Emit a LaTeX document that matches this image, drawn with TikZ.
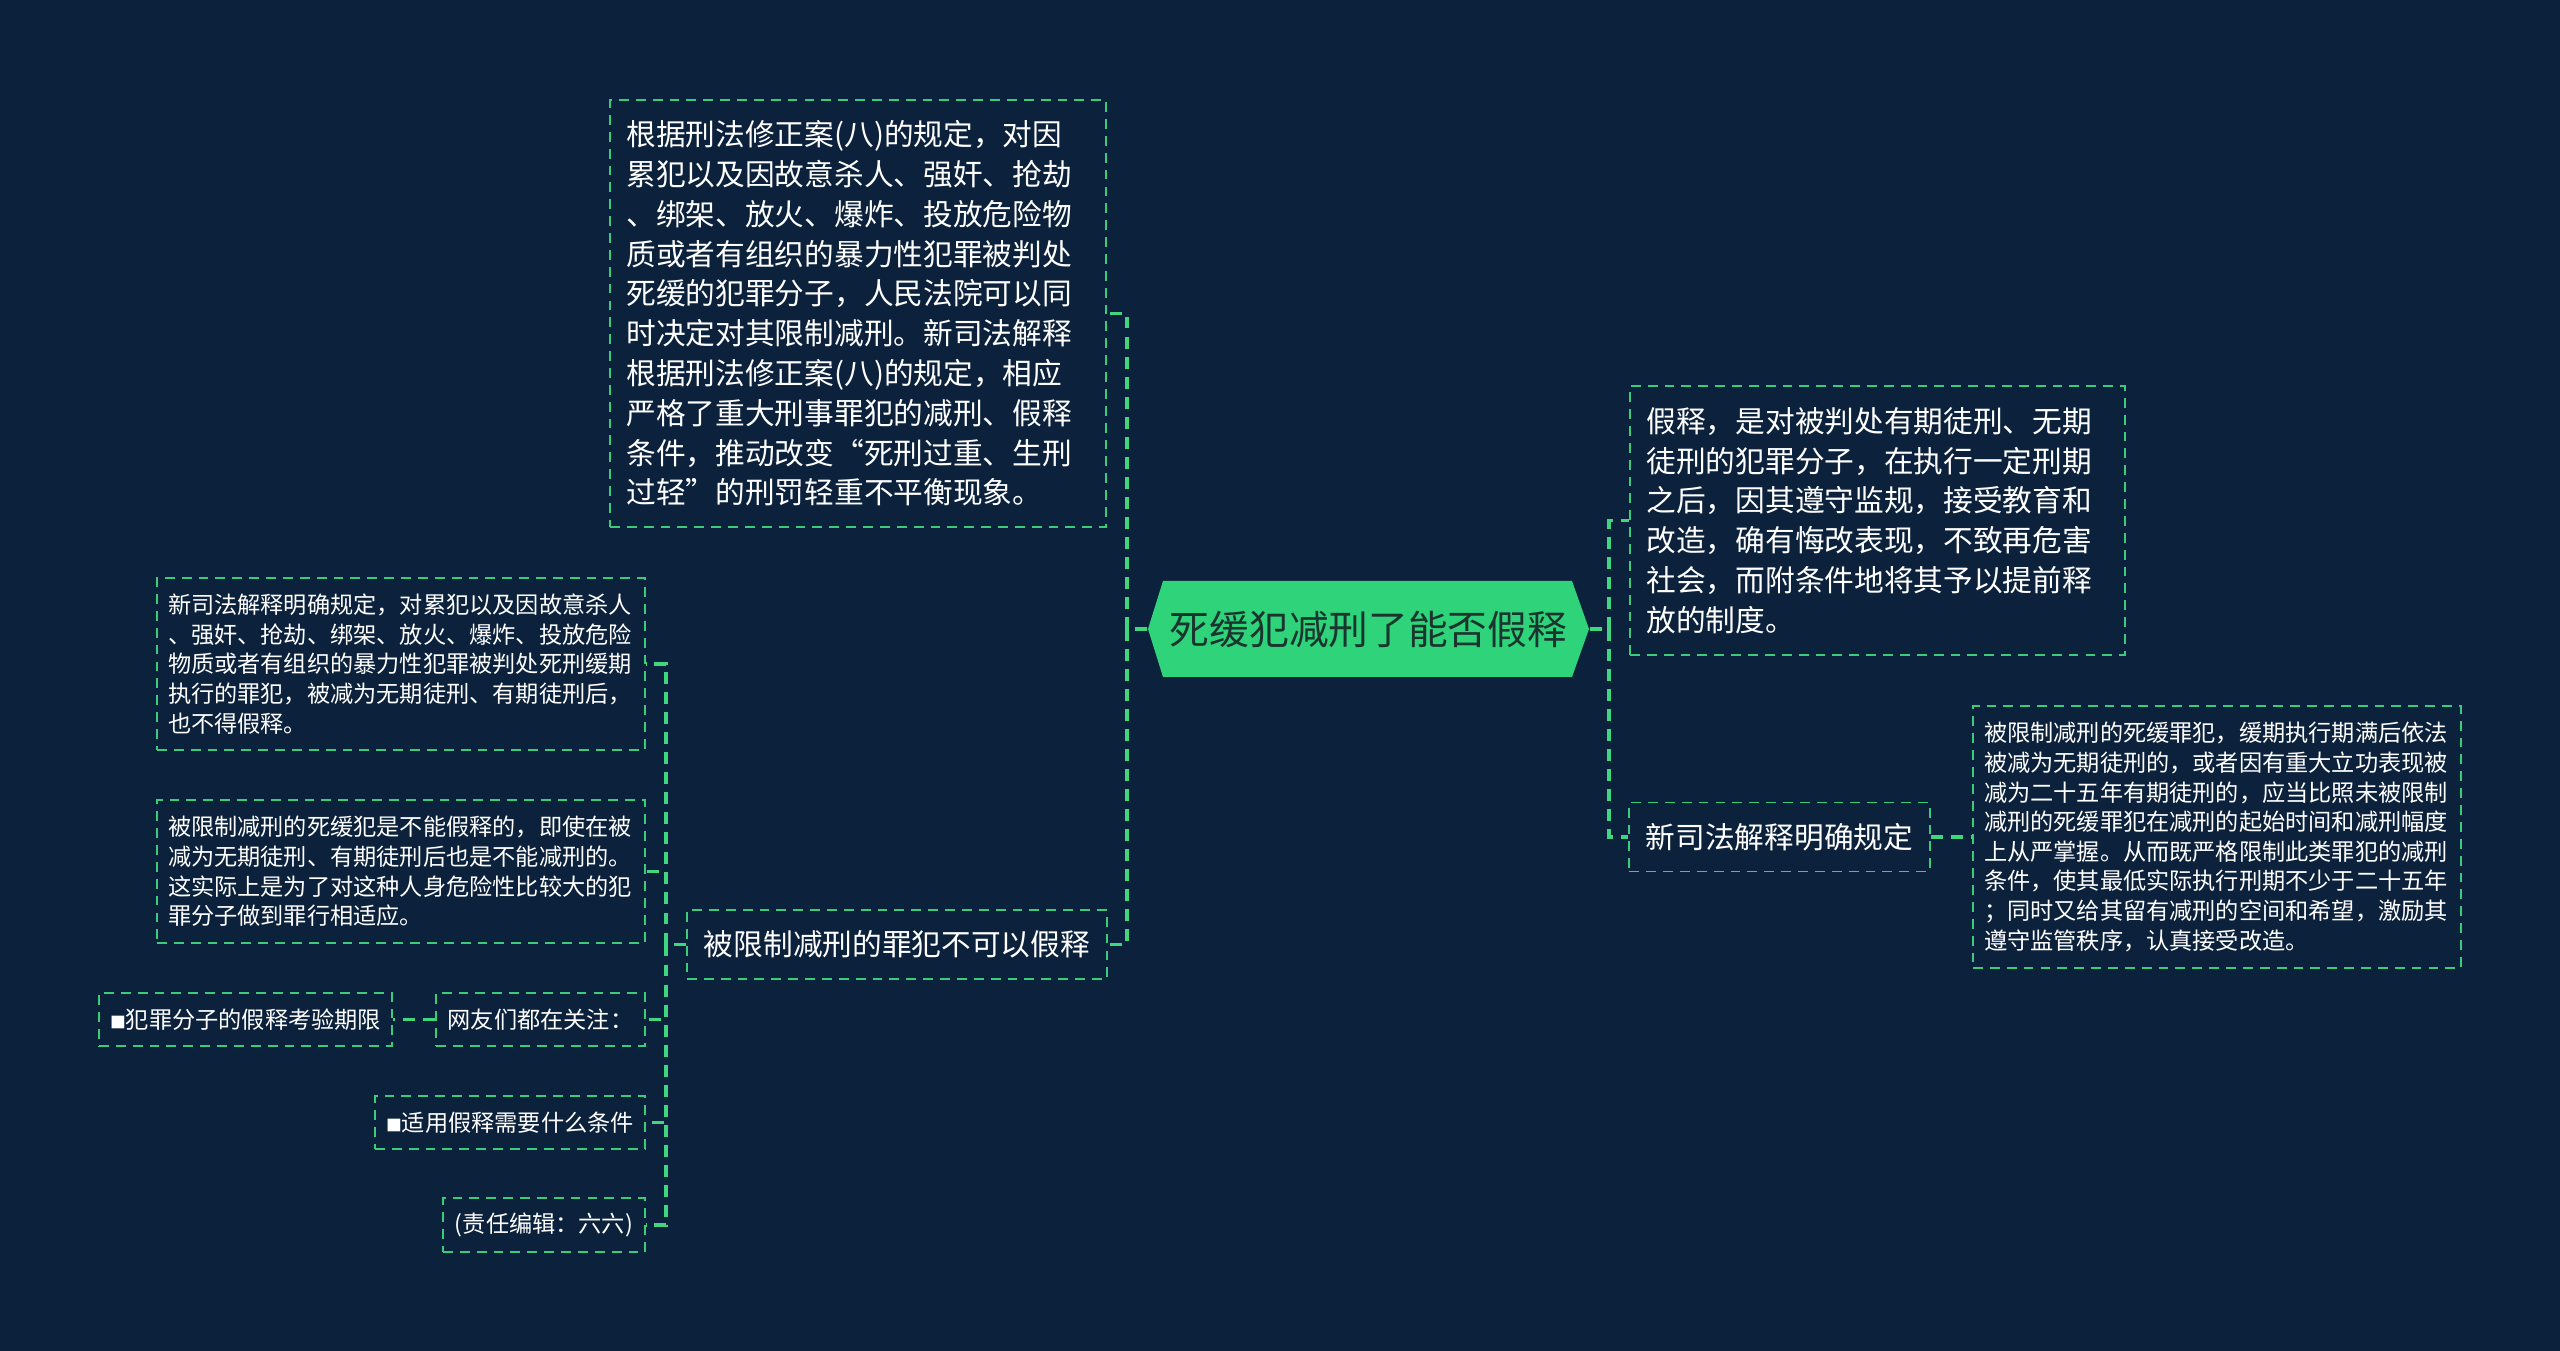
\documentclass[tikz,border=0pt]{standalone}
\usepackage{fontspec}
\newfontfamily\cjk{Noto Sans CJK SC}
\definecolor{bgnavy}{RGB}{12,34,60}
\definecolor{linegreen}{RGB}{58,204,122}
\definecolor{trunkgreen}{RGB}{64,214,128}
\definecolor{rootgreen}{RGB}{46,211,122}
\definecolor{roottext}{RGB}{26,52,46}
\newcommand\bsq{{\fontsize{4.5pt}{5pt}\selectfont ■}}

\begin{document}
\begin{tikzpicture}[x=0.1mm, y=-0.1mm,
    boxline/.style={draw=linegreen, line width=0.55pt, dash pattern=on 2.8pt off 2pt},
    bignote/.style={boxline, text=white, align=left, inner xsep=1.65mm, inner ysep=0pt,
        font=\cjk\fontsize{8.45pt}{11.32pt}\selectfont},
    smallnote/.style={boxline, text=white, align=left, inner xsep=1.1mm, inner ysep=0pt,
        font=\cjk\fontsize{6.6pt}{8.42pt}\selectfont},
    link/.style={draw=trunkgreen, line width=0.95pt, dash pattern=on 3.4pt off 2.3pt},
    rootbox/.style={inner sep=0pt, minimum width=44.1mm, minimum height=9.6mm,
        text=roottext, font=\cjk\fontsize{11.3pt}{13pt}\selectfont}]
    \useasboundingbox (0,0) rectangle (2560,1351);
    \fill[bgnavy] (0,0) rectangle (2560,1351);

    % centre
    \fill[rootgreen] (1148,629) -- ++(15,-48) -- ++(409,0) -- ++(17,48)
        -- ++(-17,48) -- ++(-409,0) -- cycle;
    \node[rootbox] (root) at (1368.5,629) {死缓犯减刑了能否假释};

    % left branch
    \node[bignote, text width=46.3mm, minimum height=42.7mm] (topnote) at (858,313.5)
        {根据刑法修正案(八)的规定，对因\\累犯以及因故意杀人、强奸、抢劫\\、绑架、放火、爆炸、投放危险物\\质或者有组织的暴力性犯罪被判处\\死缓的犯罪分子，人民法院可以同\\时决定对其限制减刑。新司法解释\\根据刑法修正案(八)的规定，相应\\严格了重大刑事罪犯的减刑、假释\\条件，推动改变“死刑过重、生刑\\过轻”的刑罚轻重不平衡现象。};
    \node[bignote, minimum width=42mm, minimum height=6.9mm] (limit) at (897,944.5)
        {被限制减刑的罪犯不可以假释};
    \node[smallnote, text width=46.6mm, minimum height=17.2mm] (defA) at (401,664)
        {新司法解释明确规定，对累犯以及因故意杀人\\、强奸、抢劫、绑架、放火、爆炸、投放危险\\物质或者有组织的暴力性犯罪被判处死刑缓期\\执行的罪犯，被减为无期徒刑、有期徒刑后，\\也不得假释。};
    \node[smallnote, text width=46.6mm, minimum height=14.3mm] (defB) at (401,871.5)
        {被限制减刑的死缓犯是不能假释的，即使在被\\减为无期徒刑、有期徒刑后也是不能减刑的。\\这实际上是为了对这种人身危险性比较大的犯\\罪分子做到罪行相适应。};
    \node[smallnote, minimum width=20.9mm, minimum height=5.3mm] (watch) at (540.5,1019.5)
        {网友们都在关注：};
    \node[smallnote, minimum width=29.3mm, minimum height=5.3mm] (period) at (245.5,1019.5)
        {\bsq 犯罪分子的假释考验期限};
    \node[smallnote, minimum width=27mm, minimum height=5.3mm] (cond) at (510,1122.5)
        {\bsq 适用假释需要什么条件};
    \node[smallnote, minimum width=20.2mm, minimum height=5.4mm] (editor) at (544,1225)
        {(责任编辑：六六)};

    % right branch
    \node[bignote, text width=46.2mm, minimum height=26.9mm] (parole) at (1877.5,520.5)
        {假释，是对被判处有期徒刑、无期\\徒刑的犯罪分子，在执行一定刑期\\之后，因其遵守监规，接受教育和\\改造，确有悔改表现，不致再危害\\社会，而附条件地将其予以提前释\\放的制度。};
    \node[bignote, minimum width=29.9mm, minimum height=6.9mm] (newrule) at (1779.5,837)
        {新司法解释明确规定};
    \node[smallnote, text width=46.6mm, minimum height=26.2mm] (detail) at (2217,837)
        {被限制减刑的死缓罪犯，缓期执行期满后依法\\被减为无期徒刑的，或者因有重大立功表现被\\减为二十五年有期徒刑的，应当比照未被限制\\减刑的死缓罪犯在减刑的起始时间和减刑幅度\\上从严掌握。从而既严格限制此类罪犯的减刑\\条件，使其最低实际执行刑期不少于二十五年\\；同时又给其留有减刑的空间和希望，激励其\\遵守监管秩序，认真接受改造。};

    % connectors
    \coordinate (ltrunk) at (1127,629);
    \coordinate (rtrunk) at (1609,629);
    \coordinate (ltrunk2) at (666,944.5);
    \draw[link] (root.west) -- (ltrunk);
    \draw[link] (ltrunk) |- (topnote.east);
    \draw[link] (ltrunk) |- (limit.east);
    \draw[link] (limit.west) -- (ltrunk2);
    \foreach \n in {defA,defB,watch,cond,editor}
        \draw[link] (ltrunk2) |- (\n.east);
    \draw[link] (watch.west) -- (period.east);
    \draw[link] (root.east) -- (rtrunk);
    \draw[link] (rtrunk) |- (parole.west);
    \draw[link] (rtrunk) |- (newrule.west);
    \draw[link] (newrule.east) -- (detail.west);
\end{tikzpicture}
\end{document}
